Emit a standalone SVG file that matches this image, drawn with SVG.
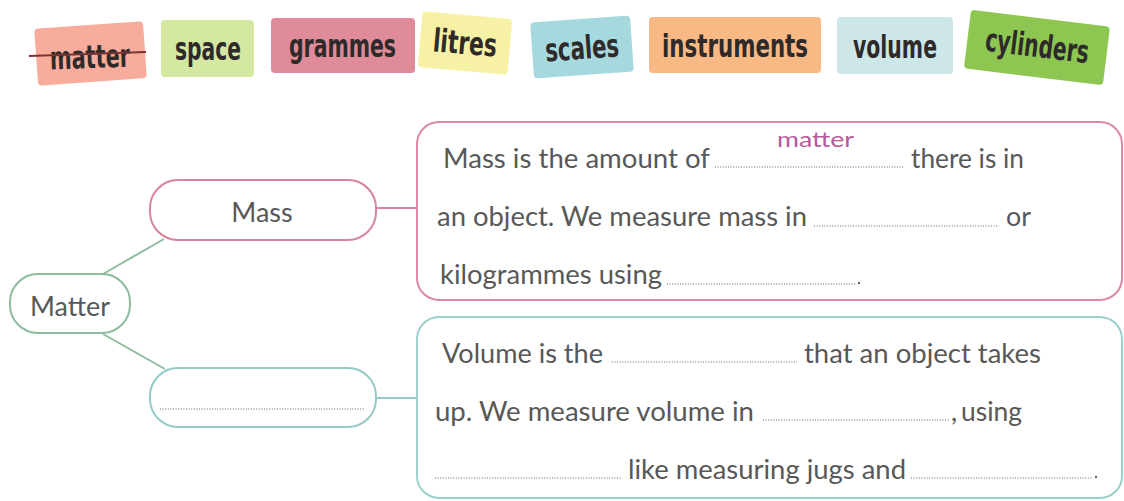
<svg xmlns="http://www.w3.org/2000/svg" width="1124" height="501" viewBox="0 0 1124 501">
<style>
.tile{stroke:none}
.tw{font-family:"DejaVu Sans Condensed","DejaVu Sans",sans-serif;font-weight:bold;font-size:32px;fill:#2e2a2a}
.t{font-family:Lato,"Open Sans",sans-serif;font-size:27px;fill:#585858}
.dots{stroke:#9a9a9a;stroke-width:1.3;stroke-dasharray:1 1.6;fill:none}
.conn{fill:none;stroke-width:2}
</style>
<rect width="1124" height="501" fill="#ffffff"/>
<g id="word-bank">
<g id="w-matter" transform="rotate(-4 90 53)">
<rect class="tile" x="36" y="25" width="109" height="57" rx="4" fill="#f7ac9c"/>
</g>
<text class="tw" x="50" y="68" textLength="80" lengthAdjust="spacingAndGlyphs" transform="rotate(-2 90 60)">matter</text>
<line x1="29" y1="56" x2="146" y2="52" stroke="#7a3434" stroke-width="2"/>
<g id="w-space">
<rect class="tile" x="161" y="20" width="93" height="57" rx="4" fill="#d4e8a2"/>
<text class="tw" x="175" y="60" textLength="66" lengthAdjust="spacingAndGlyphs">space</text>
</g>
<g id="w-grammes">
<rect class="tile" x="271" y="18" width="144" height="55" rx="4" fill="#df8b9a"/>
<text class="tw" x="289" y="57" textLength="107" lengthAdjust="spacingAndGlyphs">grammes</text>
</g>
<g id="w-litres" transform="rotate(5 465 43)">
<rect class="tile" x="420" y="15" width="90" height="56" rx="4" fill="#f6f1a4"/>
<text class="tw" x="433" y="54" textLength="64" lengthAdjust="spacingAndGlyphs">litres</text>
</g>
<g id="w-scales" transform="rotate(-4 582 47)">
<rect class="tile" x="532" y="19" width="100" height="56" rx="4" fill="#a6d9de"/>
<text class="tw" x="545" y="59" textLength="74" lengthAdjust="spacingAndGlyphs">scales</text>
</g>
<g id="w-instruments">
<rect class="tile" x="649" y="17" width="172" height="56" rx="4" fill="#f8b985"/>
<text class="tw" x="662" y="57" textLength="146" lengthAdjust="spacingAndGlyphs">instruments</text>
</g>
<g id="w-volume">
<rect class="tile" x="837" y="17" width="116" height="57" rx="4" fill="#cde6e8"/>
<text class="tw" x="853" y="58" textLength="84" lengthAdjust="spacingAndGlyphs">volume</text>
</g>
<g id="w-cylinders" transform="rotate(7 1037 47)">
<rect class="tile" x="967" y="18" width="140" height="59" rx="4" fill="#8dc752"/>
<text class="tw" x="985" y="57" font-size="29" textLength="104" lengthAdjust="spacingAndGlyphs">cylinders</text>
</g>
</g>
<g id="connectors">
<line class="conn" x1="103" y1="274" x2="164" y2="239" stroke="#8dbc9e"/>
<line class="conn" x1="103" y1="334" x2="165" y2="369" stroke="#8dbc9e"/>
<line class="conn" x1="376" y1="208" x2="417" y2="208" stroke="#d8849a"/>
<line class="conn" x1="376" y1="398" x2="417" y2="398" stroke="#94cbc7"/>
</g>
<g id="node-matter">
<rect x="10" y="274" width="120" height="59" rx="28" fill="#fff" stroke="#8dbc9e" stroke-width="2"/>
<text class="t" x="70" y="316" text-anchor="middle" textLength="80" lengthAdjust="spacingAndGlyphs">Matter</text>
</g>
<g id="node-mass">
<rect x="150" y="180" width="226" height="60" rx="28" fill="#fff" stroke="#d8849a" stroke-width="2"/>
<text class="t" x="262" y="222" text-anchor="middle">Mass</text>
</g>
<g id="node-volume">
<rect x="150" y="368" width="226" height="59" rx="28" fill="#fff" stroke="#94cbc7" stroke-width="2"/>
<line class="dots" x1="160" y1="409" x2="364" y2="409"/>
</g>
<g id="box-mass">
<rect x="417" y="122" width="705" height="178" rx="22" fill="#fff" stroke="#dc8aa0" stroke-width="2"/>
<text class="t" x="443" y="168" textLength="267" lengthAdjust="spacingAndGlyphs">Mass is the amount of</text>
<line class="dots" x1="715" y1="167" x2="904" y2="167"/>
<text x="777" y="147" font-family="Lato,'Open Sans',sans-serif" font-size="22" fill="#b65a9c" textLength="77" lengthAdjust="spacingAndGlyphs">matter</text>
<text class="t" x="911" y="168" textLength="113" lengthAdjust="spacingAndGlyphs">there is in</text>
<text class="t" x="437" y="226" textLength="370" lengthAdjust="spacingAndGlyphs">an object. We measure mass in</text>
<line class="dots" x1="814" y1="226" x2="999" y2="226"/>
<text class="t" x="1006" y="226" textLength="25" lengthAdjust="spacingAndGlyphs">or</text>
<text class="t" x="440" y="284" textLength="222" lengthAdjust="spacingAndGlyphs">kilogrammes using</text>
<line class="dots" x1="667" y1="284" x2="857" y2="284"/>
<circle cx="859" cy="283" r="1.2" fill="#666"/>
</g>
<g id="box-volume">
<rect x="417" y="317" width="705" height="181" rx="22" fill="#fff" stroke="#9cd0cc" stroke-width="2"/>
<text class="t" x="442" y="363" textLength="161" lengthAdjust="spacingAndGlyphs">Volume is the</text>
<line class="dots" x1="612" y1="362" x2="797" y2="362"/>
<text class="t" x="804" y="363" textLength="237" lengthAdjust="spacingAndGlyphs">that an object takes</text>
<text class="t" x="435" y="421" textLength="319" lengthAdjust="spacingAndGlyphs">up. We measure volume in</text>
<line class="dots" x1="763" y1="420" x2="950" y2="420"/>
<text class="t" x="951" y="421">,</text>
<text class="t" x="961" y="421" textLength="61" lengthAdjust="spacingAndGlyphs">using</text>
<line class="dots" x1="435" y1="478" x2="622" y2="478"/>
<text class="t" x="628" y="479" textLength="278" lengthAdjust="spacingAndGlyphs">like measuring jugs and</text>
<line class="dots" x1="911" y1="478" x2="1093" y2="478"/>
<circle cx="1096" cy="477" r="1.2" fill="#666"/>
</g>
</svg>
